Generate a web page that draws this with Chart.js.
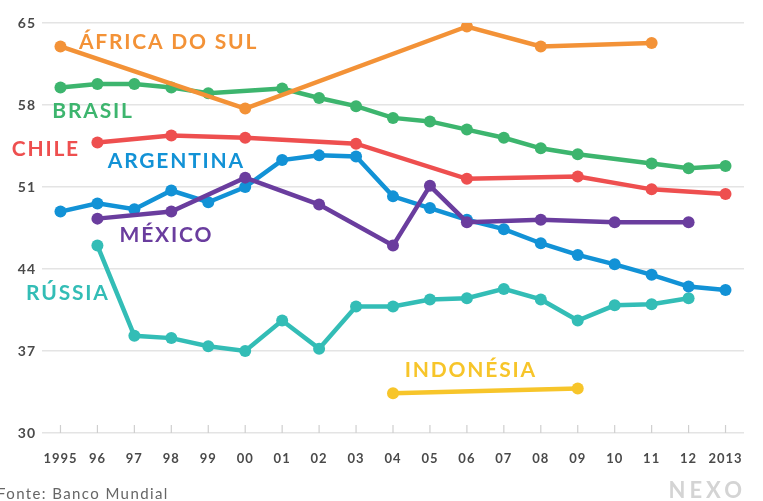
<!DOCTYPE html>
<html>
<head>
<meta charset="utf-8">
<script src="https://cdn.jsdelivr.net/npm/chart.js@4.4.1/dist/chart.umd.min.js"></script>
<style>
  html, body { margin: 0; background: #fff; }
  #wrap { position: relative; width: 763px; height: 501px; }
</style>
</head>
<body>
<div id="wrap"><canvas id="chart"></canvas></div>
<script>
const years = ['1995','96','97','98','99','00','01','02','03','04','05','06','07','08','09','10','11','12','2013'];
const yTicks = [30, 37, 44, 51, 58, 65];

const africaDoSul = [63.0, null, null, null, null, 57.7, null, null, null, null, null, 64.7, null, 63.0, null, null, 63.3, null, null];
const brasil      = [59.5, 59.8, 59.8, 59.5, 59.0, null, 59.4, 58.6, 57.9, 56.9, 56.6, 55.9, 55.2, 54.3, 53.8, null, 53.0, 52.6, 52.8];
const chile       = [null, 54.8, null, 55.4, null, 55.2, null, null, 54.7, null, null, 51.7, null, null, 51.9, null, 50.8, null, 50.4];
const argentina   = [48.9, 49.6, 49.1, 50.7, 49.7, 51.0, 53.3, 53.7, 53.6, 50.2, 49.2, 48.2, 47.4, 46.2, 45.2, 44.4, 43.5, 42.5, 42.2];
const mexico      = [null, 48.3, null, 48.9, null, 51.8, null, 49.5, null, 46.0, 51.1, 48.0, null, 48.2, null, 48.0, null, 48.0, null];
const russia      = [null, 46.0, 38.3, 38.1, 37.4, 37.0, 39.6, 37.2, 40.8, 40.8, 41.4, 41.5, 42.3, 41.4, 39.6, 40.9, 41.0, 41.5, null];
const indonesia   = [null, null, null, null, null, null, null, null, null, 33.4, null, null, null, null, 33.8, null, null, null, null];

const COLORS = {
  africa:    '#F39237',
  brasil:    '#3DB56E',
  chile:     '#EE4F4F',
  argentina: '#1292D6',
  mexico:    '#6A3D9E',
  russia:    '#33BDB6',
  indonesia: '#F7C52A',
};

// rótulos dos países, ancorados em coordenadas de dados (índice do ano, valor)
const seriesLabels = [
  { text: 'ÁFRICA DO SUL', at: 0.5,   val: 63.4, color: COLORS.africa },
  { text: 'BRASIL',        at: -0.22, val: 57.5, color: COLORS.brasil },
  { text: 'CHILE',         at: -1.32, val: 54.2, color: COLORS.chile },
  { text: 'ARGENTINA',     at: 1.28,  val: 53.2, color: COLORS.argentina },
  { text: 'MÉXICO',        at: 1.6,   val: 46.9, color: COLORS.mexico },
  { text: 'RÚSSIA',        at: -0.93, val: 41.9, color: COLORS.russia },
  { text: 'INDONÉSIA',     at: 9.32,  val: 35.4, color: COLORS.indonesia },
];

const line = (data, color) => ({
  data,
  borderColor: color,
  backgroundColor: color,
  pointBackgroundColor: color,
  pointBorderWidth: 0,
  borderWidth: 4.5,
  pointRadius: 6,
  pointHoverRadius: 6,
  tension: 0,
  spanGaps: true,
});

const labelPlugin = {
  id: 'countryLabels',
  afterDatasetsDraw(chart) {
    const { ctx, scales: { x, y } } = chart;
    ctx.save();
    ctx.font = 'bold 21px Lato';
    ctx.letterSpacing = '1.8px';
    ctx.textBaseline = 'middle';
    ctx.textAlign = 'left';
    seriesLabels.forEach(l => {
      ctx.fillStyle = l.color;
      ctx.fillText(l.text, x.getPixelForValue(l.at), y.getPixelForValue(l.val));
    });
    // fonte + marca
    ctx.letterSpacing = '1.4px';
    ctx.font = '15px Lato';
    ctx.fillStyle = '#666';
    ctx.fillText('Fonte: Banco Mundial', -3, 494);
    ctx.letterSpacing = '4px';
    ctx.font = 'bold 22px Lato';
    ctx.fillStyle = '#d4d4d4';
    ctx.textAlign = 'right';
    ctx.fillText('NEXO', 746, 491);
    ctx.restore();
  }
};

// marquinhas verticais acima da linha de base, no centro de cada ano
const tickMarks = {
  id: 'tickMarks',
  beforeDatasetsDraw(chart) {
    const { ctx, chartArea, scales: { x } } = chart;
    ctx.save();
    ctx.strokeStyle = '#cfcfcf';
    ctx.lineWidth = 1.2;
    years.forEach((_, i) => {
      const px = x.getPixelForTick(i);
      ctx.beginPath();
      ctx.moveTo(px, chartArea.bottom);
      ctx.lineTo(px, chartArea.bottom - 8);
      ctx.stroke();
    });
    ctx.restore();
  },
  beforeDraw(chart) { chart.ctx.letterSpacing = '1px'; }
};

new Chart(document.getElementById('chart'), {
  type: 'line',
  data: {
    labels: years,
    datasets: [
      line(africaDoSul, COLORS.africa),
      line(brasil,      COLORS.brasil),
      line(chile,       COLORS.chile),
      line(mexico,      COLORS.mexico),
      line(argentina,   COLORS.argentina),
      line(indonesia,   COLORS.indonesia),
      line(russia,      COLORS.russia),
    ],
  },
  options: {
    responsive: true,
    maintainAspectRatio: false,
    animation: false,
    layout: { padding: { top: 23, right: 19, bottom: 28, left: 0 } },
    plugins: { legend: { display: false }, tooltip: { enabled: false } },
    scales: {
      x: {
        offset: true,
        afterFit: s => { s.height = 40; },
        grid: { display: false, drawTicks: false },
        border: { display: false },
        ticks: { color: '#4a4a4a', font: { family: 'Lato', size: 13, weight: 'bold' }, padding: 18, maxRotation: 0, autoSkip: false },
      },
      y: {
        min: 30, max: 65,
        afterBuildTicks: s => { s.ticks = yTicks.map(v => ({ value: v })); },
        afterFit: s => { s.width = 42; },
        grid: {
          color: '#e4e4e4',
          lineWidth: 1.5,
          drawTicks: false,
        },
        border: { display: false },
        ticks: { color: '#4a4a4a', font: { family: 'Lato', size: 14, weight: 'bold' }, padding: 6 },
      },
    },
  },
  plugins: [tickMarks, labelPlugin],
});
</script>
</body>
</html>
